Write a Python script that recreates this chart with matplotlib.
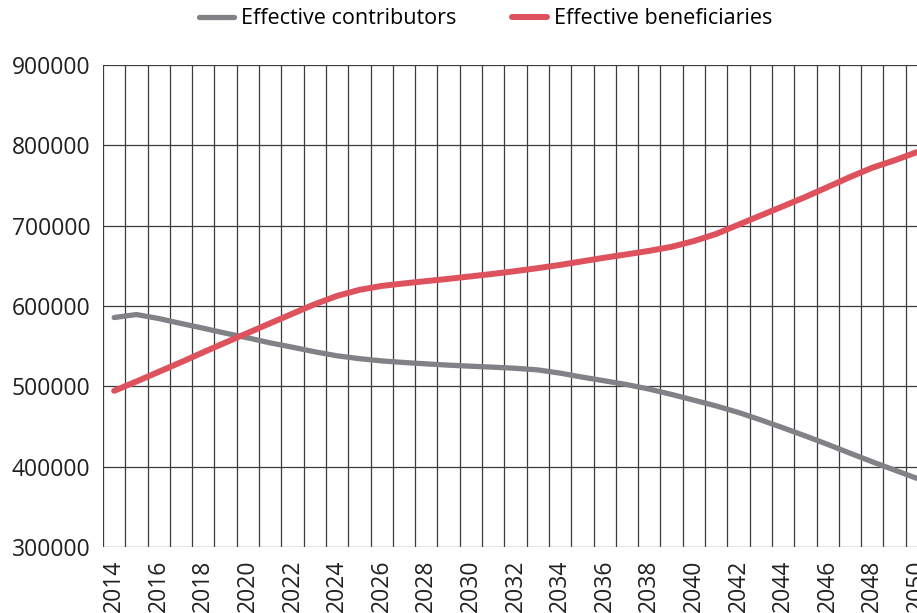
import numpy as np
import matplotlib
matplotlib.use("Agg")
from matplotlib import pyplot as plt
from matplotlib import font_manager

# Years on the category axis
years = list(range(2014, 2051))

# Values
contributors = [585600, 589300, 584400, 578200, 572300, 566100, 560300, 554100, 548700,
                543000, 538000, 534500, 531700, 529700, 528000, 526400, 525100, 523900,
                522500, 520500, 516500, 511500, 506900, 502200, 496600, 490000, 482900,
                475700, 467600, 458300, 448500, 438400, 427900, 417000, 406300, 396000,
                385700]
beneficiaries = [494500, 506100, 518100, 530100, 542500, 554600, 566500, 578500, 590400,
                 602200, 612500, 620000, 624900, 628000, 630900, 633700, 636800, 639900,
                 643300, 647000, 651000, 655500, 660000, 664200, 668500, 673500, 680700,
                 689500, 701000, 712500, 723900, 735500, 747800, 760200, 771800, 781000,
                 791200]
y_ticks = [300000, 400000, 500000, 600000, 700000, 800000, 900000]

series_names = ["Effective contributors", "Effective beneficiaries"]
gray = "#818286"
red = "#de525e"
grid_col = "#3c3c3c"

installed = {f.name for f in font_manager.fontManager.ttflist}
tick_font = "Open Sans" if "Open Sans" in installed else "DejaVu Sans"

fig = plt.figure(figsize=(9.17, 6.13), dpi=100)
# axes run past the right edge, the reference is cropped there
ax = fig.add_axes([103 / 917, 1 - 547.3 / 613, 825 / 917, (547.3 - 64.6) / 613])

x = np.arange(len(years))
ax.plot(x, contributors, color=gray, lw=3.8, solid_capstyle="round",
        label=series_names[0], zorder=3)
ax.plot(x, beneficiaries, color=red, lw=4.3, solid_capstyle="round",
        label=series_names[1], zorder=3)

ax.set_xlim(-0.5, len(years) - 0.5)
ax.set_ylim(300000, 900000)

# grid lines sit between categories
for b in np.arange(-0.5, len(years), 1.0):
    ax.axvline(b, color=grid_col, lw=0.9, zorder=1)
for v in y_ticks:
    ax.axhline(v, color=grid_col, lw=0.9, zorder=1)

for s in ax.spines.values():
    s.set_visible(False)

ax.set_yticks(y_ticks)
ax.set_yticklabels([str(v) for v in y_ticks], fontsize=16.5, family=tick_font, color="#231f20")
ax.set_xticks(x[::2])
ax.set_xticklabels([str(y) for y in years[::2]], rotation=90, fontsize=16.5,
                   family=tick_font, color="#231f20")
ax.tick_params(axis="both", length=0)
ax.tick_params(axis="y", pad=9)
ax.tick_params(axis="x", pad=9)

fig.legend(loc="upper center", bbox_to_anchor=(0.53, 1.018), ncol=2, frameon=False,
           handlelength=1.6, handletextpad=0.35, columnspacing=2.6,
           prop={"family": tick_font, "size": 15.5})

fig.savefig("out.png", dpi=100)
